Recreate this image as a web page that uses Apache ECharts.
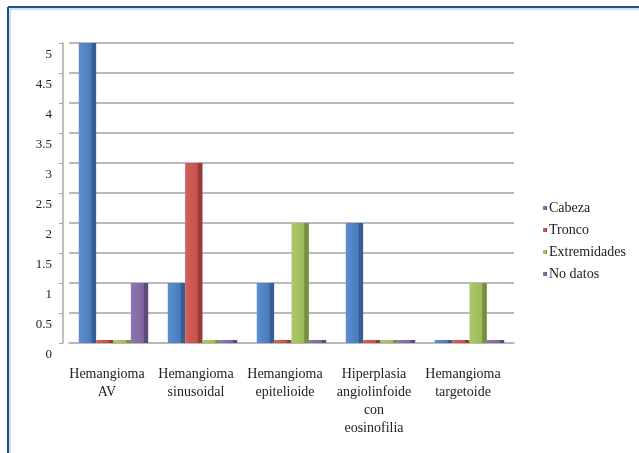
<!DOCTYPE html>
<html>
<head>
<meta charset="utf-8">
<script src="https://cdn.jsdelivr.net/npm/echarts@6/dist/echarts.min.js"></script>
<style>
  html, body { margin: 0; padding: 0; background: #ffffff; }
  #chart { width: 639px; height: 453px; }
</style>
</head>
<body>
<div id="chart"></div>
<script>
// Tipos histológicos (categorías del eje X)
const categories = [
  'Hemangioma\nAV',
  'Hemangioma\nsinusoidal',
  'Hemangioma\nepitelioide',
  'Hiperplasia\nangiolinfoide\ncon\neosinofilia',
  'Hemangioma\ntargetoide'
];

// Número de casos por localización
const cabeza       = [5, 1, 1, 2, 0];
const tronco       = [0, 3, 0, 0, 0];
const extremidades = [0, 0, 2, 0, 1];
const noDatos      = [1, 0, 0, 0, 0];

const seriesNames = ['Cabeza', 'Tronco', 'Extremidades', 'No datos'];
const yTicks = [0, 0.5, 1, 1.5, 2, 2.5, 3, 3.5, 4, 4.5, 5];

const serifFont = '"Liberation Serif", "Times New Roman", "DejaVu Serif", serif';

// Relleno con cara lateral más oscura para imitar el volumen de las columnas
function faceFill(light, base, dark) {
  return new echarts.graphic.LinearGradient(0, 0, 1, 0, [
    { offset: 0, color: light },
    { offset: 0.72, color: base },
    { offset: 0.76, color: dark },
    { offset: 1, color: dark }
  ]);
}

const palette = [
  { legend: '#4f81bd', fill: faceFill('#5b8fcf', '#4a7cbc', '#345f95') },
  { legend: '#c0504d', fill: faceFill('#d4615d', '#c5504b', '#983b38') },
  { legend: '#9bbb59', fill: faceFill('#acc96a', '#9bbb59', '#758f40') },
  { legend: '#8064a2', fill: faceFill('#9075b3', '#8064a2', '#5f4a7c') }
];

const values = [cabeza, tronco, extremidades, noDatos];

const chart = echarts.init(document.getElementById('chart'), null, { renderer: 'canvas' });

chart.setOption({
  animation: false,
  backgroundColor: '#ffffff',
  textStyle: { fontFamily: serifFont },
  color: palette.map(p => p.legend),
  graphic: [
    // Marco azul de la figura (bordes superior e izquierdo)
    { type: 'line', shape: { x1: 8, y1: 7, x2: 639, y2: 7 }, style: { stroke: '#234f8f', lineWidth: 2 } },
    { type: 'line', shape: { x1: 8, y1: 7, x2: 8, y2: 453 }, style: { stroke: '#234f8f', lineWidth: 2 } },
    { type: 'line', shape: { x1: 10, y1: 9, x2: 639, y2: 9 }, style: { stroke: '#9dbbe0', lineWidth: 1 } },
    { type: 'line', shape: { x1: 10, y1: 9, x2: 10, y2: 453 }, style: { stroke: '#9dbbe0', lineWidth: 1 } }
  ],
  legend: {
    orient: 'vertical',
    left: 538,
    top: 195,
    icon: 'rect',
    itemWidth: 4,
    itemHeight: 4,
    itemGap: 6,
    data: seriesNames,
    textStyle: { fontFamily: serifFont, fontSize: 14, color: '#222222', lineHeight: 16, padding: [0, 0, 0, -3] }
  },
  grid: { left: 69, right: 125, top: 43, bottom: 110, containLabel: false },
  xAxis: {
    type: 'category',
    data: categories,
    axisTick: { show: false },
    axisLine: { show: true, lineStyle: { color: '#b8b8b8', width: 1.5 } },
    axisLabel: {
      interval: 0,
      margin: 22,
      fontFamily: serifFont,
      fontSize: 14,
      lineHeight: 18,
      color: '#222222',
      padding: [0, 13, 0, 0]
    }
  },
  yAxis: {
    type: 'value',
    min: 0,
    max: 5,
    interval: 0.5,
    offset: 6,
    axisLine: { show: true, lineStyle: { color: '#a8a8a8', width: 1.5 } },
    axisTick: { show: true, length: 4, lineStyle: { color: '#a8a8a8' } },
    splitLine: { show: true, lineStyle: { color: '#a3a3a3', width: 1.5 } },
    axisLabel: {
      margin: 11,
      showMinLabel: true,
      showMaxLabel: true,
      fontFamily: serifFont,
      fontSize: 13,
      lineHeight: 14,
      color: '#222222',
      // cada rótulo queda algo por debajo de su línea de división
      verticalAlign: 'top',
      padding: [5, 0, 0, 0],
      formatter: v => (yTicks.indexOf(v) >= 0 ? String(v) : '')
    }
  },
  series: seriesNames.map((name, i) => ({
    name: name,
    type: 'bar',
    data: values[i],
    barGap: '0%',
    barCategoryGap: '22%',
    barMinHeight: 3,
    itemStyle: { color: palette[i].fill }
  }))
});
</script>
</body>
</html>
